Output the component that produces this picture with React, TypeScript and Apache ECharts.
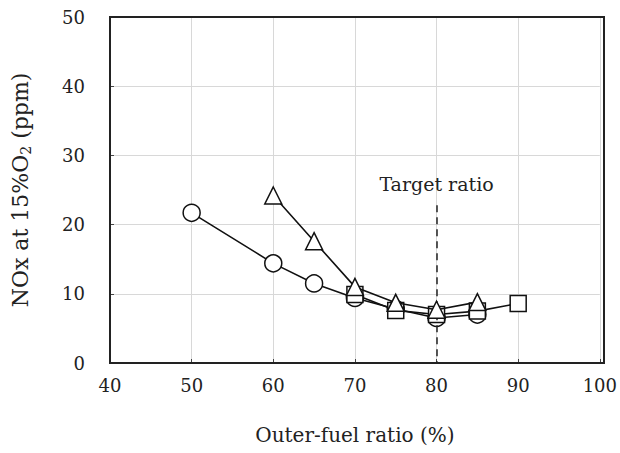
import React, { useEffect, useRef } from "react";
import * as echarts from "echarts";

const circleData: [number, number][] = [
  [50, 21.7], [60, 14.4], [65, 11.5], [70, 9.4], [75, 7.8], [80, 6.5], [85, 7.0],
];
const squareData: [number, number][] = [
  [70, 9.9], [75, 7.6], [80, 7.0], [85, 7.5], [90, 8.6],
];
const triangleData: [number, number][] = [
  [60, 24.2], [65, 17.6], [70, 11.0], [75, 8.7], [80, 7.7], [85, 8.8],
];
const targetX = 80;
const targetTop = 22.8;
const targetLabelY = 25.9;
const targetLabel = "Target ratio";

const FONT = "'DejaVu Serif', 'Liberation Serif', serif";

export default function App() {
  const ref = useRef<HTMLDivElement>(null);
  useEffect(() => {
    const chart = echarts.init(ref.current!, null, { renderer: "svg" });
    const markerStyle = { color: "#fff", borderColor: "#111", borderWidth: 1.5 };
    const lineStyle = { color: "#111", width: 1.6 };
    chart.setOption({
      animation: false,
      backgroundColor: "#fff",
      grid: { left: 110, right: 16, top: 17, bottom: 90 },
      xAxis: {
        type: "value",
        min: 40,
        max: 100,
        interval: 10,
        name: "Outer-fuel ratio (%)",
        nameLocation: "middle",
        nameGap: 62,
        nameTextStyle: { fontFamily: FONT, fontSize: 20, color: "#222" },
        axisLine: { show: true, lineStyle: { color: "#222", width: 2 } },
        axisTick: { show: true, inside: true, length: 4, lineStyle: { color: "#444" } },
        axisLabel: { fontFamily: FONT, fontSize: 18, color: "#222", margin: 13 },
        splitLine: { show: true, lineStyle: { color: "#d8d8d8", width: 1 } },
      },
      yAxis: {
        type: "value",
        min: 0,
        max: 50,
        interval: 10,
        name: "{a|NOx at 15%O}{sub|2}{a| (ppm)}",
        nameLocation: "middle",
        nameGap: 77,
        nameTextStyle: {
          fontFamily: FONT,
          color: "#222",
          rich: {
            a: { fontFamily: FONT, fontSize: 22, color: "#222" },
            sub: { fontFamily: FONT, fontSize: 14, color: "#222", padding: [12, 0, 0, 0] },
          },
        },
        axisLine: { show: true, lineStyle: { color: "#222", width: 2 } },
        axisTick: { show: true, inside: true, length: 4, lineStyle: { color: "#444" } },
        axisLabel: { fontFamily: FONT, fontSize: 18, color: "#222", margin: 25 },
        splitLine: { show: true, lineStyle: { color: "#d8d8d8", width: 1 } },
      },
      graphic: [
        {
          type: "rect",
          shape: { x: 110, y: 17, width: 494, height: 346 },
          style: { fill: "none", stroke: "#222", lineWidth: 2 },
          z: 5,
        },
      ],
      series: [
        {
          type: "line",
          data: circleData,
          symbol: "circle",
          symbolSize: 17,
          lineStyle,
          itemStyle: markerStyle,
          z: 3,
          markLine: {
            silent: true,
            symbol: "none",
            label: { show: false },
            lineStyle: { color: "#222", type: [7, 5], width: 1.5 },
            data: [[{ coord: [targetX, targetTop] }, { coord: [targetX, 0] }]],
          },
          markPoint: {
            symbol: "circle",
            symbolSize: 0,
            data: [{ coord: [targetX, targetLabelY], value: targetLabel }],
            label: {
              show: true,
              position: "inside",
              formatter: targetLabel,
              fontFamily: FONT,
              fontSize: 19,
              color: "#222",
            },
          },
        },
        {
          type: "line",
          data: squareData,
          symbol: "rect",
          symbolSize: 16,
          lineStyle,
          itemStyle: markerStyle,
          z: 4,
        },
        {
          type: "line",
          data: triangleData,
          symbol: "triangle",
          symbolSize: 17,
          lineStyle,
          itemStyle: markerStyle,
          z: 5,
        },
      ],
    });
    return () => chart.dispose();
  }, []);
  return <div ref={ref} style={{ width: 620, height: 453, position: "absolute", left: 0, top: 0 }} />;
}
